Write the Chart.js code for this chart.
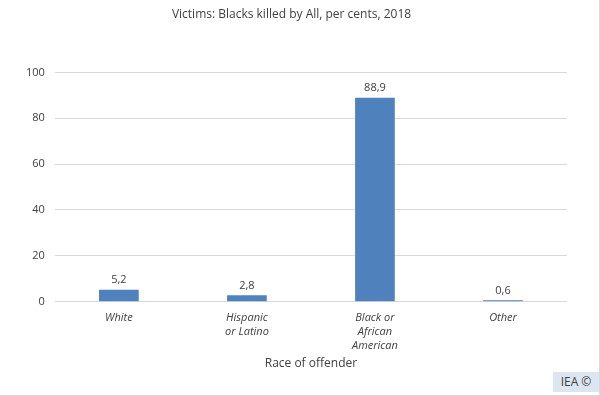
<!DOCTYPE html>
<html>
<head>
<meta charset="utf-8">
<script src="https://cdn.jsdelivr.net/npm/chart.js@4"></script>
<style>
  html, body { margin: 0; padding: 0; background: #fff; }
  #wrap { position: relative; width: 600px; height: 396px; box-sizing: border-box; border-right: 1px solid #d9d9d9; border-bottom: 1px solid #d9d9d9; }
  #badge { position: absolute; right: 0; bottom: 3px; width: 46px; height: 20px; background: #dce6f1; color: #404040;
           font: 12px "Open Sans", sans-serif; line-height: 20px; text-align: center; }
</style>
</head>
<body>
<div id="wrap">
  <canvas id="chart" width="600" height="396"></canvas>
  <div id="badge">IEA ©</div>
</div>
<script>
// données
const categories = [['White'], ['Hispanic', 'or Latino'], ['Black or', 'African', 'American'], ['Other']];
const values = [5.2, 2.8, 88.9, 0.6];
const yTicks = [0, 20, 40, 60, 80, 100];

const fmt = v => v.toFixed(1).replace('.', ',');

// étiquettes au-dessus des barres
const barLabels = {
    id: 'barLabels',
    afterDatasetsDraw(chart) {
        const ctx = chart.ctx;
        const meta = chart.getDatasetMeta(0);
        ctx.save();
        ctx.font = '11px "Open Sans", sans-serif';
        ctx.fillStyle = '#404040';
        ctx.textAlign = 'center';
        ctx.textBaseline = 'bottom';
        meta.data.forEach((bar, i) => {
            ctx.fillText(fmt(values[i]), bar.x, bar.y - 4);
        });
        ctx.restore();
    }
};

const ctx = document.getElementById('chart').getContext('2d');
new Chart(ctx, {
    type: 'bar',
    data: {
        labels: categories,
        datasets: [{
            data: values,
            backgroundColor: '#4f81bd',
            barPercentage: 0.31,
            categoryPercentage: 1
        }]
    },
    options: {
        responsive: false,
        animation: false,
        layout: { padding: { left: 16, right: 33, top: 0, bottom: 25 } },
        plugins: {
            legend: { display: false },
            tooltip: { enabled: false },
            title: {
                display: true,
                text: 'Victims: Blacks killed by All, per cents, 2018',
                color: '#404040',
                font: { family: 'Open Sans', size: 12, weight: 'normal' },
                padding: { top: 7, bottom: 51 }
            }
        },
        scales: {
            x: {
                grid: { display: false },
                border: { display: false },
                ticks: {
                    color: '#404040',
                    font: { family: 'Open Sans', size: 11, style: 'italic', lineHeight: 1.27 },
                    padding: 1,
                    maxRotation: 0
                },
                title: {
                    display: true,
                    text: 'Race of offender',
                    color: '#404040',
                    font: { family: 'Open Sans', size: 12 },
                    padding: { top: 3, bottom: 0 }
                }
            },
            y: {
                min: 0,
                max: 100,
                afterBuildTicks: axis => { axis.ticks = yTicks.map(v => ({ value: v })); },
                grid: { color: '#d9d9d9', drawTicks: false },
                border: { display: false },
                ticks: {
                    color: '#404040',
                    font: { family: 'Open Sans', size: 11 },
                    padding: 10
                }
            }
        }
    },
    plugins: [barLabels]
});
</script>
</body>
</html>
